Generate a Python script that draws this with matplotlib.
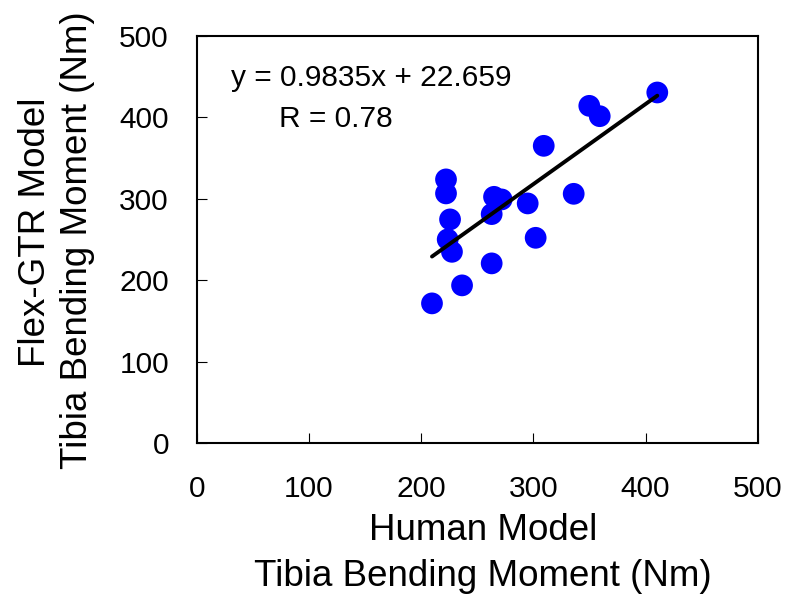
import matplotlib
matplotlib.use("Agg")
import matplotlib.pyplot as plt
import numpy as np

plt.rcParams['font.family'] = ['Liberation Sans', 'DejaVu Sans']

# Data (Human model vs Flex-GTR model, tibia bending moment, Nm)
human_model = [410.5, 349.9, 359.2, 309.3, 336.0, 222.2, 222.2, 225.8, 223.7, 227.5,
               265.0, 271.8, 262.9, 295.0, 302.1, 262.9, 236.5, 209.7]
flex_gtr = [430.3, 413.9, 401.2, 364.8, 305.9, 323.6, 306.4, 274.5, 249.9, 234.7,
            302.2, 299.0, 281.0, 294.1, 251.9, 220.5, 193.5, 171.4]
slope = 0.9835
intercept = 22.659
r_value = 0.78
x_ticks = [0, 100, 200, 300, 400, 500]
y_ticks = [0, 100, 200, 300, 400, 500]

fig = plt.figure(figsize=(7.90, 5.97), dpi=100)
ax = fig.add_axes([196.7 / 790, 1 - 443 / 597, (757.7 - 196.7) / 790, (443 - 35.7) / 597])

ax.scatter(human_model, flex_gtr, s=245, color='#0000ff', edgecolors='none', zorder=2)

xfit = np.array([min(human_model), max(human_model)])
ax.plot(xfit, slope * xfit + intercept, color='black', lw=2.8, solid_capstyle='round', zorder=3)

ax.set_xlim(0, 500)
ax.set_ylim(0, 500)
ax.set_xticks(x_ticks)
ax.set_yticks(y_ticks)
ax.tick_params(axis='x', direction='in', length=7, width=0.8, labelsize=21.5, pad=23)
ax.tick_params(axis='y', direction='in', length=7, width=0.8, labelsize=21.5, pad=20)
for s in ax.spines.values():
    s.set_linewidth(1.5)

ax.text(31, 448, f"y = {slope}x + {intercept}", fontsize=21.5, ha='left', va='center')
ax.text(73.5, 398, f"R = {r_value}", fontsize=21.5, ha='left', va='center')

fig.text(483 / 790, 1 - 530 / 597, "Human Model", fontsize=26.5, ha='center', va='center')
fig.text(483 / 790, 1 - 577 / 597, "Tibia Bending Moment (Nm)", fontsize=26.5, ha='center', va='center')
fig.text(36 / 790, 1 - 232 / 597, "Flex-GTR Model", fontsize=26.5, ha='center', va='center', rotation=90)
fig.text(78 / 790, 1 - 240 / 597, "Tibia Bending Moment (Nm)", fontsize=26.5, ha='center', va='center', rotation=90)

fig.savefig("out.png", dpi=100)
